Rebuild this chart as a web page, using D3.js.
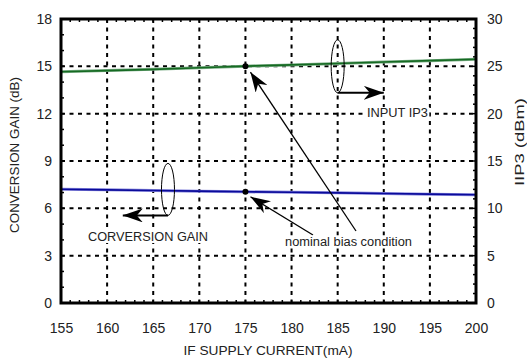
<!DOCTYPE html>
<html><head><meta charset="utf-8">
<script src="https://cdn.jsdelivr.net/npm/d3@7"></script>
<style>body{margin:0;background:#fff}svg{display:block}text{font-family:"Liberation Sans",Arial,sans-serif;fill:#222}</style>
</head><body>
<script>
const currents = [155,160,165,170,175,180,185,190,195,200];
const gain = [7.21,7.17,7.13,7.09,7.05,7.02,6.98,6.94,6.90,6.86];
const iip3 = [24.43,24.55,24.68,24.85,25.02,25.15,25.30,25.45,25.60,25.75];
const xTicks = [155,160,165,170,175,180,185,190,195,200];
const gainTicks = [0,3,6,9,12,15,18];
const ip3Ticks = [0,5,10,15,20,25,30];
const nominal = 175;

const W=527,H=358, L=61,T=19,R=476,B=303;
const svg=d3.select("body").append("svg").attr("width",W).attr("height",H);
const x=d3.scaleLinear().domain([155,200]).range([L,R]);
const yL=d3.scaleLinear().domain([0,18]).range([B,T]);
const yR=d3.scaleLinear().domain([0,30]).range([B,T]);

// grid
const g=svg.append("g");
g.selectAll(".vg").data(xTicks.slice(1,-1)).join("line")
 .attr("x1",d=>x(d)).attr("x2",d=>x(d)).attr("y1",T).attr("y2",B)
 .attr("stroke","#000").attr("stroke-width",2).attr("stroke-dasharray","4,4.5");
g.selectAll(".hg").data(gainTicks.slice(1,-1)).join("line")
 .attr("y1",d=>yL(d)).attr("y2",d=>yL(d)).attr("x1",L).attr("x2",R)
 .attr("stroke","#000").attr("stroke-width",2).attr("stroke-dasharray","4,4.5");

// minor ticks
const minorX=d3.range(155,201,1);
svg.append("g").selectAll("line").data(minorX).join("line")
 .attr("x1",d=>x(d)).attr("x2",d=>x(d)).attr("y1",B).attr("y2",B-3).attr("stroke","#000").attr("stroke-width",1.5);
svg.append("g").selectAll("line").data(minorX).join("line")
 .attr("x1",d=>x(d)).attr("x2",d=>x(d)).attr("y1",T).attr("y2",T+3).attr("stroke","#000").attr("stroke-width",1.5);
svg.append("g").selectAll("line").data(d3.range(0,19,1)).join("line")
 .attr("y1",d=>yL(d)).attr("y2",d=>yL(d)).attr("x1",L).attr("x2",L+3).attr("stroke","#000").attr("stroke-width",1.5);
svg.append("g").selectAll("line").data(d3.range(0,31,1)).join("line")
 .attr("y1",d=>yR(d)).attr("y2",d=>yR(d)).attr("x1",R).attr("x2",R-3).attr("stroke","#000").attr("stroke-width",1.5);

// axes labels via d3 axes
const ax=svg.append("g").attr("transform",`translate(0,${B})`)
 .call(d3.axisBottom(x).tickValues(xTicks).tickSize(0).tickPadding(20));
const ayl=svg.append("g").attr("transform",`translate(${L},0)`)
 .call(d3.axisLeft(yL).tickValues(gainTicks).tickSize(0).tickPadding(9));
const ayr=svg.append("g").attr("transform",`translate(${R},0)`)
 .call(d3.axisRight(yR).tickValues(ip3Ticks).tickSize(0).tickPadding(11));
[ax,ayl,ayr].forEach(a=>{a.select(".domain").remove();a.selectAll("text").style("font-size","14px").style("fill","#222").style("font-family","'Liberation Sans',Arial,sans-serif");});

// lines
const lineG=d3.line().x((d,i)=>x(currents[i])).y(d=>yL(d));
const lineI=d3.line().x((d,i)=>x(currents[i])).y(d=>yR(d));
svg.append("path").attr("d",lineI(iip3)).attr("fill","none").attr("stroke","#7fb08a").attr("stroke-width",3);
svg.append("path").attr("d",lineI(iip3)).attr("fill","none").attr("stroke","#156a22").attr("stroke-width",1.6);
svg.append("path").attr("d",lineG(gain)).attr("fill","none").attr("stroke","#8888dd").attr("stroke-width",3);
svg.append("path").attr("d",lineG(gain)).attr("fill","none").attr("stroke","#0a0a9a").attr("stroke-width",1.6);

// border
svg.append("rect").attr("x",L).attr("y",T).attr("width",R-L).attr("height",B-T)
 .attr("fill","none").attr("stroke","#000").attr("stroke-width",3);

// nominal dots
const ni=currents.indexOf(nominal);
svg.append("circle").attr("cx",x(nominal)).attr("cy",yR(iip3[ni])).attr("r",3).attr("fill","#000");
svg.append("circle").attr("cx",x(nominal)).attr("cy",yL(gain[ni])).attr("r",3).attr("fill","#000");

// arrowheads
const defs=svg.append("defs");
defs.append("marker").attr("id","ah").attr("viewBox","0 0 20 14").attr("refX",20).attr("refY",7)
 .attr("markerWidth",20).attr("markerHeight",14).attr("markerUnits","userSpaceOnUse").attr("orient","auto")
 .append("path").attr("d","M0,0 L20,7 L0,14 L6,7 Z").attr("fill","#000");

function label(txt,cx,by,size,len){
  const t=svg.append("text").attr("x",cx).attr("y",by).attr("text-anchor","middle").style("font-size",size+"px")
    .attr("textLength",len).attr("lengthAdjust","spacingAndGlyphs").text(txt);
  const bb=t.node().getBBox();
  svg.insert("rect",()=>t.node()).attr("x",bb.x-1).attr("y",bb.y+1).attr("width",bb.width+2).attr("height",bb.height-2).attr("fill","#fff");
  return t;
}

// annotation: INPUT IP3
const e1x=x(185), e1y=yR(25);
svg.append("ellipse").attr("cx",e1x).attr("cy",e1y).attr("rx",6.5).attr("ry",26.5).attr("fill","none").attr("stroke","#000").attr("stroke-width",1);
svg.append("line").attr("x1",e1x).attr("y1",e1y+26.5).attr("x2",x(190)).attr("y2",e1y+26.5)
 .attr("stroke","#000").attr("stroke-width",2).attr("marker-end","url(#ah)");
label("INPUT IP3",397.5,117,12,61);

// annotation: CONVERSION GAIN
const e2x=x(166.6), e2y=yL(7.2);
svg.append("ellipse").attr("cx",e2x).attr("cy",e2y).attr("rx",6.5).attr("ry",26).attr("fill","none").attr("stroke","#000").attr("stroke-width",1);
svg.append("line").attr("x1",e2x).attr("y1",e2y+26).attr("x2",x(161.7)).attr("y2",e2y+26)
 .attr("stroke","#000").attr("stroke-width",2).attr("marker-end","url(#ah)");
label("CORVERSION GAIN",148,241,12,120);

// nominal bias arrows
svg.append("line").attr("x1",356).attr("y1",231).attr("x2",x(nominal)+5).attr("y2",yR(iip3[ni])+6)
 .attr("stroke","#000").attr("stroke-width",1.3).attr("marker-end","url(#ah)");
svg.append("line").attr("x1",313).attr("y1",235).attr("x2",x(nominal)+5).attr("y2",yL(gain[ni])+5)
 .attr("stroke","#000").attr("stroke-width",1.3).attr("marker-end","url(#ah)");
label("nominal bias condition",348.5,245.5,12,127);

// axis titles
svg.append("text").attr("x",268).attr("y",354.5).attr("text-anchor","middle").style("font-size","13px")
 .attr("textLength",169).attr("lengthAdjust","spacingAndGlyphs").text("IF SUPPLY CURRENT(mA)");
svg.append("text").attr("transform","translate(19,155) rotate(-90)").attr("text-anchor","middle").style("font-size","13px")
 .attr("textLength",156).attr("lengthAdjust","spacingAndGlyphs").text("CONVERSION GAIN (dB)");
svg.append("text").attr("transform","translate(524,142) rotate(-90)").attr("text-anchor","middle").style("font-size","13px")
 .attr("textLength",88).attr("lengthAdjust","spacingAndGlyphs").text("IIP3 (dBm)");
</script>
</body></html>
